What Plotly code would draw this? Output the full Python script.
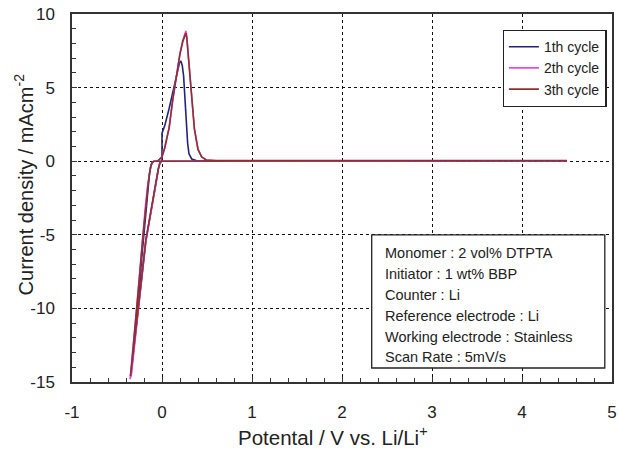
import plotly.graph_objects as go

# ---- data ----
c1_x = [4.5, 3.0, 1.5, 0.6, 0.3, 0.05, 0.0, -0.02, -0.04, -0.07, -0.1, -0.14, -0.18, -0.22, -0.26, -0.30, -0.335,
        -0.345, -0.33, -0.30, -0.27, -0.24, -0.21, -0.18, -0.16, -0.14, -0.125, -0.11, -0.09, -0.05, 0.0,
        0.0, 0.03, 0.08, 0.13, 0.17, 0.195, 0.21, 0.225, 0.24, 0.255, 0.27, 0.285, 0.30, 0.33, 0.38, 0.5, 1.0, 2.0, 3.0, 4.5]
c1_y = [0.02, 0.02, 0.02, 0.02, 0.0, 0.0, 0.0, -0.05, -0.5, -1.6, -2.6, -4.0, -5.4, -7.6, -9.9, -12.2, -14.2,
        -14.5, -13.6, -11.6, -9.6, -7.4, -5.2, -3.2, -1.9, -0.9, -0.35, -0.1, 0.0, 0.0, 0.0,
        1.9, 2.4, 3.6, 5.0, 6.2, 6.7, 6.8, 6.5, 5.8, 4.3, 2.6, 1.2, 0.5, 0.15, 0.05, 0.02, 0.02, 0.02, 0.02, 0.02]

c2_x = [4.5, 3.0, 1.5, 0.6, 0.3, 0.05, 0.0, -0.02, -0.04, -0.07, -0.1, -0.14, -0.18, -0.22, -0.26, -0.30, -0.34,
        -0.355, -0.34, -0.31, -0.28, -0.25, -0.215, -0.185, -0.16, -0.14, -0.125, -0.11, -0.09, -0.05, 0.0,
        0.03, 0.08, 0.12, 0.16, 0.2, 0.23, 0.255, 0.265, 0.275, 0.29, 0.31, 0.33, 0.36, 0.40, 0.44, 0.49, 0.6, 1.0, 2.0, 3.0, 4.5]
c2_y = [0.03, 0.03, 0.03, 0.03, 0.0, 0.0, 0.0, -0.05, -0.5, -1.6, -2.7, -4.1, -5.5, -7.7, -10.0, -12.3, -14.5,
        -14.8, -13.9, -12.0, -9.9, -7.7, -5.1, -3.1, -1.7, -0.8, -0.3, -0.08, 0.0, 0.0, 0.3,
        0.9, 2.3, 4.2, 5.9, 7.3, 8.2, 8.8, 8.85, 8.5, 7.3, 5.6, 4.2, 2.2, 0.8, 0.3, 0.08, 0.03, 0.03, 0.03, 0.03, 0.03]

c3_x = [4.5, 3.0, 1.5, 0.6, 0.3, 0.05, 0.0, -0.02, -0.04, -0.07, -0.1, -0.14, -0.18, -0.22, -0.26, -0.30, -0.34,
        -0.35, -0.335, -0.305, -0.275, -0.245, -0.21, -0.18, -0.155, -0.135, -0.12, -0.105, -0.085, -0.05, 0.0,
        0.03, 0.08, 0.12, 0.16, 0.2, 0.23, 0.255, 0.265, 0.275, 0.29, 0.31, 0.33, 0.36, 0.40, 0.44, 0.49, 0.6, 1.0, 2.0, 3.0, 4.5]
c3_y = [0.04, 0.04, 0.04, 0.04, 0.0, 0.0, 0.0, -0.05, -0.5, -1.5, -2.6, -4.0, -5.4, -7.6, -9.9, -12.2, -14.4,
        -14.6, -13.7, -11.8, -9.7, -7.5, -5.0, -3.0, -1.6, -0.7, -0.25, -0.06, 0.0, 0.0, 0.3,
        0.9, 2.3, 4.2, 5.9, 7.3, 8.1, 8.65, 8.7, 8.4, 7.2, 5.6, 4.2, 2.2, 0.8, 0.3, 0.08, 0.04, 0.04, 0.04, 0.04, 0.04]

names = ["1th cycle", "2th cycle", "3th cycle"]
colors = ["#23237d", "#e04ce0", "#8e3030"]

x_ticks = [-1, 0, 1, 2, 3, 4, 5]
y_ticks = [-15, -10, -5, 0, 5, 10]

x_title = "Potental / V vs. Li/Li<sup>+</sup>"
y_title = "Current density / mAcm<sup>-2</sup>"

info_lines = ["Monomer : 2 vol% DTPTA", "Initiator : 1 wt% BBP", "Counter : Li",
              "Reference electrode : Li", "Working electrode : Stainless", "Scan Rate : 5mV/s"]

FONT = "Liberation Sans, Arial, Helvetica, sans-serif"

fig = go.Figure()
for xs, ys, nm, col in zip([c1_x, c2_x, c3_x], [c1_y, c2_y, c3_y], names, colors):
    fig.add_trace(go.Scatter(x=xs, y=ys, mode="lines", name=nm,
                             line=dict(color=col, width=1.6)))

axis_common = dict(
    showline=True, linecolor="#333333", linewidth=1.5, mirror=True,
    ticks="inside", ticklen=5, tickcolor="#333333", tickwidth=1,
    showgrid=True, gridcolor="#111111", gridwidth=1.3, griddash="dot",
    zeroline=False, tickfont=dict(size=17, color="#222222", family=FONT),
    automargin=False, ticklabeloverflow="allow",
)

fig.update_xaxes(range=[-1, 5], tickvals=x_ticks, ticktext=[str(v) for v in x_ticks],
                 ticklabelstandoff=14,
                 minor=dict(ticks="inside", dtick=0.2, ticklen=4, tickcolor="#333333", showgrid=False),
                 **axis_common)
fig.update_yaxes(range=[-15, 10], tickvals=y_ticks, ticktext=[str(v) for v in y_ticks],
                 ticklabelstandoff=12,
                 minor=dict(ticks="inside", dtick=1, ticklen=4, tickcolor="#333333", showgrid=False),
                 **axis_common)

# axis titles
fig.add_annotation(x=0.4835, y=-0.148, xref="paper", yref="paper", text=x_title, showarrow=False,
                   xanchor="center", yanchor="middle", font=dict(size=20.5, family=FONT, color="#222222"))
fig.add_annotation(x=-0.09, y=0.538, xref="paper", yref="paper", text=y_title, showarrow=False,
                   textangle=-90, xanchor="center", yanchor="middle",
                   font=dict(size=20, family=FONT, color="#222222"))

# info box
fig.add_shape(type="rect", xref="x", yref="y", x0=2.33, x1=4.92, y0=-14.05, y1=-5.01,
              line=dict(color="#222222", width=1.3), fillcolor="white", layer="above")
for i, t in enumerate(info_lines):
    fig.add_annotation(x=2.46, y=-6.25 - i * 1.415, xref="x", yref="y", text=t, showarrow=False,
                       xanchor="left", yanchor="middle",
                       font=dict(size=14.5, family=FONT, color="#222222"))

fig.update_layout(
    width=619, height=450,
    margin=dict(l=72, r=7, t=14, b=68),
    plot_bgcolor="white", paper_bgcolor="white",
    font=dict(family=FONT, color="#222222"),
    legend=dict(x=0.99, y=0.957, xanchor="right", yanchor="top",
                bordercolor="#222222", borderwidth=1.3, bgcolor="white",
                font=dict(size=14, family=FONT, color="#222222"),
                itemwidth=30, tracegroupgap=0),
    showlegend=True,
)

fig.write_html("out.html")
